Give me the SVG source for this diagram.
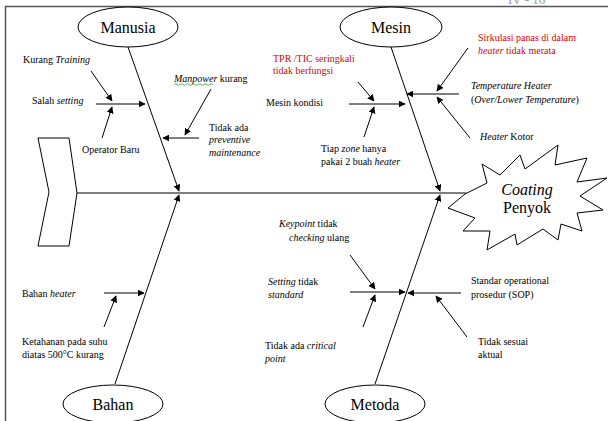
<svg xmlns="http://www.w3.org/2000/svg" width="608" height="421" viewBox="0 0 608 421" font-family="'Liberation Serif', 'Times New Roman', 'DejaVu Serif', serif">
<style>
text{font-family:'Liberation Serif','Times New Roman','DejaVu Serif',serif;font-size:10px;fill:#000}
.t{font-size:16px}
.i{font-style:italic}
.red{fill:#e00000}
.ln{stroke:#000;stroke-width:1;fill:none}
.ar{stroke:#000;stroke-width:1;fill:none;marker-end:url(#ah)}
.sh{fill:#fff;stroke:#000;stroke-width:1}
</style>
<defs>
<marker id="ah" viewBox="0 0 10 10" refX="9" refY="5" markerWidth="7" markerHeight="7" markerUnits="userSpaceOnUse" orient="auto">
<path d="M0,0 L10,5 L0,10 Z" fill="#000"/>
</marker>
</defs>
<rect width="608" height="421" fill="#fff"/>
<text x="508" y="4" font-family="'Liberation Serif', serif" style="font-size:13px;fill:#999">IV - 16</text>
<path d="M5.5,421 L5.5,6.5 L608,6.5" stroke="#555" stroke-width="1.5" fill="none"/>

<g id="connectors">
<line class="ln" x1="77" y1="193" x2="466" y2="193"/>
<line class="ar" x1="128" y1="47" x2="179" y2="191"/>
<line class="ar" x1="115" y1="384" x2="179" y2="195"/>
<line class="ar" x1="391" y1="47" x2="440" y2="191"/>
<line class="ar" x1="375" y1="384" x2="440" y2="195"/>
<line class="ar" x1="96" y1="104" x2="145" y2="104"/>
<line class="ar" x1="91" y1="71" x2="112" y2="101"/>
<line class="ar" x1="102" y1="138" x2="112" y2="107"/>
<line class="ar" x1="199" y1="138" x2="163" y2="138"/>
<line class="ar" x1="211" y1="89" x2="185" y2="135"/>
<line class="ar" x1="349" y1="104" x2="405" y2="104"/>
<line class="ar" x1="358" y1="82" x2="374" y2="101"/>
<line class="ar" x1="364" y1="137" x2="374" y2="107"/>
<line class="ar" x1="459" y1="94" x2="407" y2="94"/>
<line class="ar" x1="468" y1="48" x2="437" y2="91"/>
<line class="ar" x1="470" y1="138" x2="437" y2="97"/>
<line class="ar" x1="104" y1="293" x2="144" y2="293"/>
<line class="ar" x1="104" y1="327" x2="116" y2="296"/>
<line class="ar" x1="350" y1="292" x2="405" y2="292"/>
<line class="ar" x1="350" y1="255" x2="375" y2="289"/>
<line class="ar" x1="363" y1="327" x2="375" y2="295"/>
<line class="ar" x1="461" y1="293" x2="408" y2="293"/>
<line class="ar" x1="467" y1="337" x2="436" y2="296"/>
</g>

<g id="tail"><polygon class="sh" points="38,138 69,138 77,193 69,246 38,246 49,192"/></g>

<g id="manusia"><ellipse class="sh" cx="128" cy="27" rx="50" ry="20"/><text class="t" x="128" y="33" text-anchor="middle">Manusia</text></g>
<g id="mesin"><ellipse class="sh" cx="391" cy="27" rx="51" ry="20"/><text class="t" x="391" y="33" text-anchor="middle">Mesin</text></g>
<g id="bahan"><ellipse class="sh" cx="113" cy="404" rx="50" ry="19"/><text class="t" x="113" y="410" text-anchor="middle">Bahan</text></g>
<g id="metoda"><ellipse class="sh" cx="375" cy="404" rx="50" ry="19"/><text class="t" x="375" y="410" text-anchor="middle">Metoda</text></g>

<g id="effect">
<polygon class="sh" points="465,194 448,208 475,218 463,231 490,231 487,250 515,234 517,245 543,229 558,240 561,224 582,231 577,213 603,210 580,196 607,178 577,182 587,158 555,165 558,145 525,169 520,155 500,175 482,164 487,183"/>
<text class="t i" x="527" y="195" text-anchor="middle">Coating</text>
<text class="t" x="527" y="213" text-anchor="middle">Penyok</text>
</g>

<g id="manusia-causes">
<text x="23" y="63">Kurang <tspan class="i">Training</tspan></text>
<text x="32" y="104">Salah <tspan class="i">setting</tspan></text>
<text x="82" y="153">Operator Baru</text>
<text x="174" y="82"><tspan class="i">Manpower</tspan> kurang</text>
<path d="M174,84.5 q1.5,-1.5 3,0 t3,0 t3,0 t3,0 t3,0 t3,0 t3,0 t3,0 t3,0 t3,0 t3,0 t3,0 t3,0" stroke="#3a9a3a" stroke-width="0.8" fill="none"/>
<text x="209" y="131">Tidak ada</text>
<text class="i" x="209" y="143">preventive</text>
<text class="i" x="209" y="156">maintenance</text>
</g>

<g id="mesin-causes">
<text class="red" x="273" y="62">TPR /TIC seringkali</text>
<text class="red" x="273" y="74">tidak berfungsi</text>
<text x="266" y="106">Mesin kondisi</text>
<text x="321" y="152">Tiap <tspan class="i">zone</tspan> hanya</text>
<text x="321" y="165">pakai 2 buah <tspan class="i">heater</tspan></text>
<text class="red" x="478" y="41">Sirkulasi panas di dalam</text>
<text class="red" x="478" y="54"><tspan class="i">heater</tspan> tidak merata</text>
<text class="i" x="471" y="89">Temperature Heater</text>
<text x="471" y="103">(<tspan class="i">Over/Lower Temperature</tspan>)</text>
<text x="480" y="140"><tspan class="i">Heater</tspan> Kotor</text>
</g>

<g id="bahan-causes">
<text x="22" y="297">Bahan <tspan class="i">heater</tspan></text>
<text x="22" y="345">Ketahanan pada suhu</text>
<text x="22" y="358">diatas 500°C kurang</text>
</g>

<g id="metoda-causes">
<text x="279" y="227"><tspan class="i">Keypoint</tspan> tidak</text>
<text x="289" y="241"><tspan class="i">checking</tspan> ulang</text>
<text x="268" y="285"><tspan class="i">Setting</tspan> tidak</text>
<text class="i" x="268" y="298">standard</text>
<text x="265" y="349">Tidak ada <tspan class="i">critical</tspan></text>
<text class="i" x="265" y="362">point</text>
<text x="471" y="284">Standar operational</text>
<text x="471" y="298">prosedur (SOP)</text>
<text x="478" y="345">Tidak sesuai</text>
<text x="478" y="358">aktual</text>
</g>
</svg>
